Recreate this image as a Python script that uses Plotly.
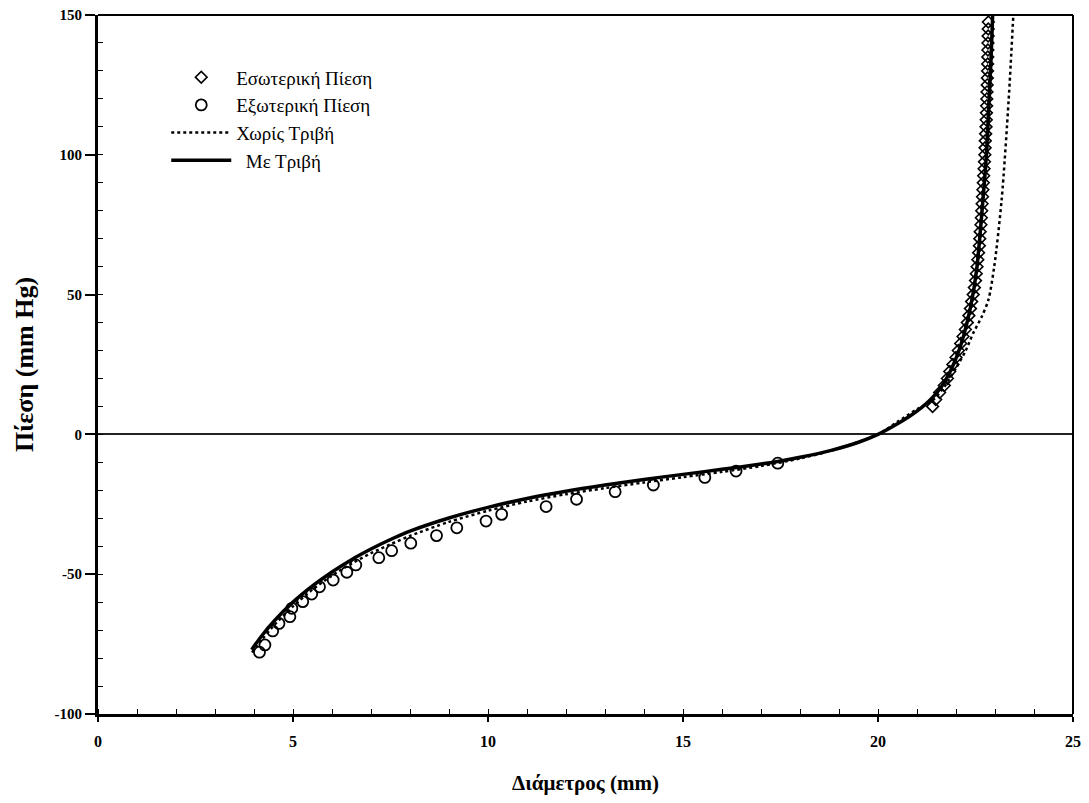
import plotly.graph_objects as go

# Εσωτερική Πίεση (diamonds)
p_int = [10, 12.5, 15, 17.5, 20, 22.5, 25, 27.5, 30, 32.5, 35, 37.5, 40, 42.5, 45, 47.5,
         50, 52.5, 55, 57.5, 60, 62.5, 65, 67.5, 70, 72.5, 75, 77.5, 80, 82.5, 85, 87.5,
         90, 92.5, 95, 97.5, 100, 102.5, 105, 107.5, 110, 112.5, 115, 117.5, 120, 122.5,
         125, 127.5, 130, 132.5, 135, 137.5, 140, 142.5, 145, 147.5]
d_int = [21.40, 21.48, 21.58, 21.70, 21.78, 21.84, 21.92, 22.00, 22.06, 22.12, 22.18, 22.24,
         22.29, 22.33, 22.37, 22.40, 22.44, 22.47, 22.50, 22.52, 22.54, 22.56, 22.58, 22.60,
         22.61, 22.62, 22.64, 22.65, 22.66, 22.67, 22.68, 22.69, 22.70, 22.71, 22.72, 22.73,
         22.74, 22.745, 22.75, 22.76, 22.77, 22.775, 22.78, 22.785, 22.79, 22.795, 22.80,
         22.805, 22.81, 22.812, 22.815, 22.818, 22.82, 22.824, 22.827, 22.83]

# Εξωτερική Πίεση (circles)
d_ext = [4.14, 4.28, 4.48, 4.64, 4.92, 4.97, 5.25, 5.48, 5.68, 6.03, 6.38, 6.61, 7.20, 7.53,
         8.02, 8.68, 9.20, 9.95, 10.35, 11.49, 12.27, 13.26, 14.24, 15.56, 16.36, 17.43]
p_ext = [-77.9, -75.3, -70.3, -67.6, -65.2, -62.2, -59.8, -57.1, -54.5, -52.1, -49.3, -46.7,
         -44.1, -41.6, -38.9, -36.2, -33.4, -31.0, -28.6, -25.8, -23.2, -20.5, -18.1, -15.4,
         -13.1, -10.3]

# Χωρίς Τριβή (dotted)
d_nofr = [3.95, 4.2, 4.5, 5, 5.5, 6, 6.5, 7, 7.5, 8, 9, 10, 11, 12, 13, 14, 15, 16, 17, 18,
          19, 20, 20.5, 21, 21.41, 21.7, 22.02, 22.25, 22.44, 22.66, 22.83, 22.98, 23.17,
          23.35, 23.47]
p_nofr = [-78, -73.5, -68.5, -61.5, -55.5, -50.5, -46.2, -42.5, -39.3, -36.3, -31.3, -27.3,
          -24.0, -21.4, -19.2, -17.2, -15.3, -13.4, -11.3, -8.6, -5, 0, 4.5, 9, 12.3, 17,
          24.2, 30, 36.2, 42.1, 48.1, 60, 83.9, 119.6, 150]

# Με Τριβή (solid)
d_fr = [3.94, 4.2, 4.5, 5, 5.5, 6, 6.5, 7, 7.5, 8, 9, 10, 11, 12, 13, 14, 15, 16, 17, 17.5,
        18, 18.8, 19.5, 20, 20.5, 20.8, 21.1, 21.35, 21.6, 21.85, 22.05, 22.2, 22.38, 22.53,
        22.68, 22.78, 22.85, 22.9, 22.94]
p_fr = [-77, -72, -67, -60, -54.2, -49.2, -44.8, -41, -37.6, -34.6, -29.9, -26.1, -22.9,
        -20.3, -18.1, -16.1, -14.3, -12.5, -10.6, -9.5, -8.2, -5.7, -2.8, 0, 3.8, 6.4, 9.4,
        12.5, 16.5, 22.5, 29, 35.5, 46, 59, 82, 100, 120, 135, 150]

x_ticks = [0, 5, 10, 15, 20, 25]
x_tick_labels = ["0", "5", "10", "15", "20", "25"]
y_ticks = [-100, -50, 0, 50, 100, 150]
y_tick_labels = ["-100", "-50", "0", "50", "100", "150"]

names = ["Εσωτερική Πίεση", "Εξωτερική Πίεση", "Χωρίς Τριβή", "\u00a0\u00a0Με Τριβή"]

serif = "Liberation Serif, Times New Roman, serif"

fig = go.Figure()
fig.add_trace(go.Scatter(x=d_int, y=p_int, mode="markers", name=names[0],
                         marker=dict(symbol="diamond-open", size=9, color="black",
                                     line=dict(width=1.6, color="black"))))
fig.add_trace(go.Scatter(x=d_ext, y=p_ext, mode="markers", name=names[1],
                         marker=dict(symbol="circle-open", size=11, color="black",
                                     line=dict(width=1.8, color="black"))))
fig.add_trace(go.Scatter(x=d_nofr, y=p_nofr, mode="lines", name=names[2],
                         line=dict(color="black", width=2.5, dash="dot", shape="spline",
                                   smoothing=0.8)))
fig.add_trace(go.Scatter(x=d_fr, y=p_fr, mode="lines", name=names[3],
                         line=dict(color="black", width=3.5, shape="spline", smoothing=0.8)))

fig.update_layout(
    width=1073, height=787,
    margin=dict(l=90, r=8, t=7, b=81),
    paper_bgcolor="white", plot_bgcolor="white",
    font=dict(family=serif, color="black"),
    showlegend=True,
    legend=dict(x=0.070, y=0.938, xanchor="left", yanchor="top",
                bgcolor="rgba(0,0,0,0)", font=dict(size=19, family=serif),
                itemwidth=60, tracegroupgap=0, itemsizing="trace"),
    xaxis=dict(range=[0, 25], tickvals=x_ticks, ticktext=x_tick_labels, automargin=False,
               showgrid=False, zeroline=False, showline=True, linecolor="black",
               linewidth=3, mirror=False, ticks="outside", ticklen=5, tickwidth=1.5,
               tickcolor="black", ticklabeloverflow="allow", ticklabelstandoff=6,
               tickfont=dict(size=16, family=serif, weight="bold"),
               minor=dict(ticks="inside", dtick=1, ticklen=5, tickwidth=1, tickcolor="black"),
               title=dict(text="Διάμετρος (mm)", font=dict(size=21, family=serif, weight="bold"),
                          standoff=30)),
    yaxis=dict(range=[-100, 150], tickvals=y_ticks, ticktext=y_tick_labels, automargin=False,
               showgrid=False, zeroline=True, zerolinecolor="#222", zerolinewidth=1.5,
               showline=True, linecolor="black", linewidth=3, mirror=False,
               ticks="outside", ticklen=10, tickwidth=1.5, tickcolor="black",
               ticklabeloverflow="allow",
               tickfont=dict(size=15, family=serif, weight="bold"),
               minor=dict(ticks="inside", dtick=10, ticklen=5, tickwidth=1, tickcolor="black"),
               title=dict(text="Πίεση (mm Hg)", font=dict(size=26, family=serif, weight="bold"),
                          standoff=14)),
)

# thinner top and right frame lines
fig.add_shape(type="line", xref="x domain", yref="y domain", x0=0, x1=1, y0=1, y1=1,
              layer="above", line=dict(color="black", width=2))
fig.add_shape(type="line", xref="x domain", yref="y domain", x0=1, x1=1, y0=0, y1=1,
              layer="above", line=dict(color="black", width=2))

fig.write_html("out.html")
